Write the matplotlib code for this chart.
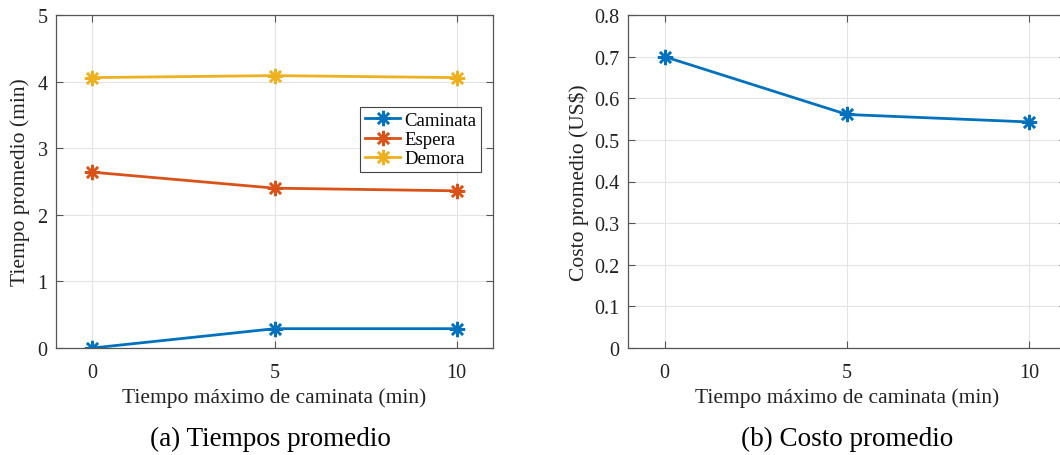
import matplotlib
matplotlib.use("Agg")
import matplotlib.pyplot as plt

# tiempo máximo de caminata permitido (min)
t_max = [0, 5, 10]

# tiempos promedio por componente (min)
caminata = [0.0, 0.29, 0.29]
espera = [2.64, 2.40, 2.36]
demora = [4.06, 4.09, 4.06]

# costo promedio por pasajero (US$)
costo = [0.70, 0.561, 0.543]

plt.rcParams["font.family"] = ["Liberation Serif", "DejaVu Serif"]
plt.rcParams["mathtext.fontset"] = "stix"

BLUE, ORANGE, YELLOW = "#0072BD", "#D95319", "#EDB120"
AX_COLOR = "#555555"
TXT = "#222222"


def style_axes(ax):
    ax.grid(True, color="#e4e4e4", lw=0.8)
    ax.set_axisbelow(True)
    for s in ax.spines.values():
        s.set_color(AX_COLOR)
        s.set_linewidth(0.9)
    ax.tick_params(direction="in", top=True, right=True, length=5,
                   color=AX_COLOR, labelsize=14.5, labelcolor=TXT)
    ax.tick_params(axis="x", pad=11)
    ax.tick_params(axis="y", pad=6)
    ax.set_xlim(-1, 11)
    ax.set_xticks(t_max)
    ax.set_xlabel("Tiempo máximo de caminata (min)", fontsize=15.5, color=TXT,
                  va="center")
    ax.xaxis.set_label_coords(0.5, -0.147)


fig = plt.figure(figsize=(10.6, 4.56), dpi=100)
ax1 = fig.add_axes([56 / 1060, 107 / 456, 437 / 1060, 333 / 456])
ax2 = fig.add_axes([628 / 1060, 107 / 456, 438 / 1060, 333 / 456])

mk = dict(marker=(8, 2, 0), markersize=11, markeredgewidth=1.8, lw=2)
ax1.plot(t_max, caminata, color=BLUE, mec=BLUE, label="Caminata", **mk)
ax1.plot(t_max, espera, color=ORANGE, mec=ORANGE, label="Espera", **mk)
ax1.plot(t_max, demora, color=YELLOW, mec=YELLOW, label="Demora", **mk)
style_axes(ax1)
ax1.set_ylim(0, 5)
ax1.set_yticks(range(6))
ax1.set_ylabel("Tiempo promedio (min)", fontsize=15.5, color=TXT, va="center")
ax1.yaxis.set_label_coords(-0.082, 0.5)
leg = ax1.legend(loc="upper right", bbox_to_anchor=(0.9725, 0.724), fontsize=13.5,
                 fancybox=False, framealpha=1, edgecolor="#444444",
                 borderpad=0.25, labelspacing=0.12, handlelength=1.9,
                 handletextpad=0.2, borderaxespad=0)
leg.get_frame().set_linewidth(0.8)

ax2.plot(t_max, costo, color=BLUE, mec=BLUE, **mk)
style_axes(ax2)
ax2.set_ylim(0, 0.8)
ax2.set_yticks([i / 10 for i in range(9)])
ax2.set_yticklabels(["0"] + [f"{i / 10:.1f}" for i in range(1, 9)])
ax2.set_ylabel("Costo promedio (US$)", fontsize=15.5, color=TXT, va="center")
ax2.yaxis.set_label_coords(-0.112, 0.5)

fig.text(270 / 1060, 1 - 439 / 456, "(a) Tiempos promedio", fontsize=19.5,
         ha="center", va="center")
fig.text(847 / 1060, 1 - 439 / 456, "(b) Costo promedio", fontsize=19.5,
         ha="center", va="center")

fig.savefig("out.png", dpi=100)
